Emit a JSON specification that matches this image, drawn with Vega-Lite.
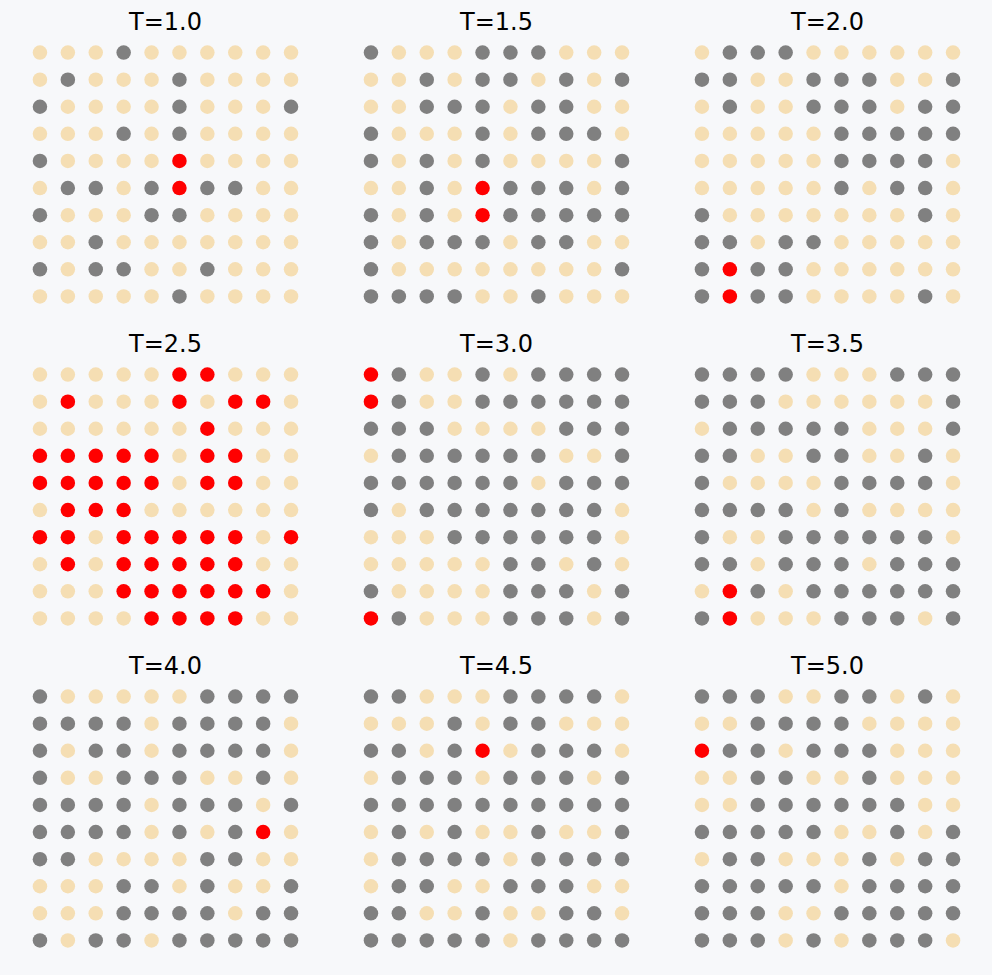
{
  "$schema": "https://vega.github.io/schema/vega-lite/v6.json",
  "background": "#f7f8fa",
  "padding": {"left": 26, "top": 11, "right": 25, "bottom": 21},
  "config": {"view": {"stroke": null}, "font": "DejaVu Sans"},
  "data": {"values": [
{"p":"T=1.0","r":0,"c":0,"s":"B"},{"p":"T=1.0","r":0,"c":1,"s":"B"},{"p":"T=1.0","r":0,"c":2,"s":"B"},{"p":"T=1.0","r":0,"c":3,"s":"G"},{"p":"T=1.0","r":0,"c":4,"s":"B"},{"p":"T=1.0","r":0,"c":5,"s":"B"},{"p":"T=1.0","r":0,"c":6,"s":"B"},{"p":"T=1.0","r":0,"c":7,"s":"B"},{"p":"T=1.0","r":0,"c":8,"s":"B"},{"p":"T=1.0","r":0,"c":9,"s":"B"},
{"p":"T=1.0","r":1,"c":0,"s":"B"},{"p":"T=1.0","r":1,"c":1,"s":"G"},{"p":"T=1.0","r":1,"c":2,"s":"B"},{"p":"T=1.0","r":1,"c":3,"s":"B"},{"p":"T=1.0","r":1,"c":4,"s":"B"},{"p":"T=1.0","r":1,"c":5,"s":"G"},{"p":"T=1.0","r":1,"c":6,"s":"B"},{"p":"T=1.0","r":1,"c":7,"s":"B"},{"p":"T=1.0","r":1,"c":8,"s":"B"},{"p":"T=1.0","r":1,"c":9,"s":"B"},
{"p":"T=1.0","r":2,"c":0,"s":"G"},{"p":"T=1.0","r":2,"c":1,"s":"B"},{"p":"T=1.0","r":2,"c":2,"s":"B"},{"p":"T=1.0","r":2,"c":3,"s":"B"},{"p":"T=1.0","r":2,"c":4,"s":"B"},{"p":"T=1.0","r":2,"c":5,"s":"G"},{"p":"T=1.0","r":2,"c":6,"s":"B"},{"p":"T=1.0","r":2,"c":7,"s":"B"},{"p":"T=1.0","r":2,"c":8,"s":"B"},{"p":"T=1.0","r":2,"c":9,"s":"G"},
{"p":"T=1.0","r":3,"c":0,"s":"B"},{"p":"T=1.0","r":3,"c":1,"s":"B"},{"p":"T=1.0","r":3,"c":2,"s":"B"},{"p":"T=1.0","r":3,"c":3,"s":"G"},{"p":"T=1.0","r":3,"c":4,"s":"B"},{"p":"T=1.0","r":3,"c":5,"s":"G"},{"p":"T=1.0","r":3,"c":6,"s":"B"},{"p":"T=1.0","r":3,"c":7,"s":"B"},{"p":"T=1.0","r":3,"c":8,"s":"B"},{"p":"T=1.0","r":3,"c":9,"s":"B"},
{"p":"T=1.0","r":4,"c":0,"s":"G"},{"p":"T=1.0","r":4,"c":1,"s":"B"},{"p":"T=1.0","r":4,"c":2,"s":"B"},{"p":"T=1.0","r":4,"c":3,"s":"B"},{"p":"T=1.0","r":4,"c":4,"s":"B"},{"p":"T=1.0","r":4,"c":5,"s":"R"},{"p":"T=1.0","r":4,"c":6,"s":"B"},{"p":"T=1.0","r":4,"c":7,"s":"B"},{"p":"T=1.0","r":4,"c":8,"s":"B"},{"p":"T=1.0","r":4,"c":9,"s":"B"},
{"p":"T=1.0","r":5,"c":0,"s":"B"},{"p":"T=1.0","r":5,"c":1,"s":"G"},{"p":"T=1.0","r":5,"c":2,"s":"G"},{"p":"T=1.0","r":5,"c":3,"s":"B"},{"p":"T=1.0","r":5,"c":4,"s":"G"},{"p":"T=1.0","r":5,"c":5,"s":"R"},{"p":"T=1.0","r":5,"c":6,"s":"G"},{"p":"T=1.0","r":5,"c":7,"s":"G"},{"p":"T=1.0","r":5,"c":8,"s":"B"},{"p":"T=1.0","r":5,"c":9,"s":"B"},
{"p":"T=1.0","r":6,"c":0,"s":"G"},{"p":"T=1.0","r":6,"c":1,"s":"B"},{"p":"T=1.0","r":6,"c":2,"s":"B"},{"p":"T=1.0","r":6,"c":3,"s":"B"},{"p":"T=1.0","r":6,"c":4,"s":"G"},{"p":"T=1.0","r":6,"c":5,"s":"G"},{"p":"T=1.0","r":6,"c":6,"s":"B"},{"p":"T=1.0","r":6,"c":7,"s":"B"},{"p":"T=1.0","r":6,"c":8,"s":"B"},{"p":"T=1.0","r":6,"c":9,"s":"B"},
{"p":"T=1.0","r":7,"c":0,"s":"B"},{"p":"T=1.0","r":7,"c":1,"s":"B"},{"p":"T=1.0","r":7,"c":2,"s":"G"},{"p":"T=1.0","r":7,"c":3,"s":"B"},{"p":"T=1.0","r":7,"c":4,"s":"B"},{"p":"T=1.0","r":7,"c":5,"s":"B"},{"p":"T=1.0","r":7,"c":6,"s":"B"},{"p":"T=1.0","r":7,"c":7,"s":"B"},{"p":"T=1.0","r":7,"c":8,"s":"B"},{"p":"T=1.0","r":7,"c":9,"s":"B"},
{"p":"T=1.0","r":8,"c":0,"s":"G"},{"p":"T=1.0","r":8,"c":1,"s":"B"},{"p":"T=1.0","r":8,"c":2,"s":"G"},{"p":"T=1.0","r":8,"c":3,"s":"G"},{"p":"T=1.0","r":8,"c":4,"s":"B"},{"p":"T=1.0","r":8,"c":5,"s":"B"},{"p":"T=1.0","r":8,"c":6,"s":"G"},{"p":"T=1.0","r":8,"c":7,"s":"B"},{"p":"T=1.0","r":8,"c":8,"s":"B"},{"p":"T=1.0","r":8,"c":9,"s":"B"},
{"p":"T=1.0","r":9,"c":0,"s":"B"},{"p":"T=1.0","r":9,"c":1,"s":"B"},{"p":"T=1.0","r":9,"c":2,"s":"B"},{"p":"T=1.0","r":9,"c":3,"s":"B"},{"p":"T=1.0","r":9,"c":4,"s":"B"},{"p":"T=1.0","r":9,"c":5,"s":"G"},{"p":"T=1.0","r":9,"c":6,"s":"B"},{"p":"T=1.0","r":9,"c":7,"s":"B"},{"p":"T=1.0","r":9,"c":8,"s":"B"},{"p":"T=1.0","r":9,"c":9,"s":"B"},
{"p":"T=1.5","r":0,"c":0,"s":"G"},{"p":"T=1.5","r":0,"c":1,"s":"B"},{"p":"T=1.5","r":0,"c":2,"s":"B"},{"p":"T=1.5","r":0,"c":3,"s":"B"},{"p":"T=1.5","r":0,"c":4,"s":"G"},{"p":"T=1.5","r":0,"c":5,"s":"G"},{"p":"T=1.5","r":0,"c":6,"s":"G"},{"p":"T=1.5","r":0,"c":7,"s":"B"},{"p":"T=1.5","r":0,"c":8,"s":"B"},{"p":"T=1.5","r":0,"c":9,"s":"B"},
{"p":"T=1.5","r":1,"c":0,"s":"B"},{"p":"T=1.5","r":1,"c":1,"s":"B"},{"p":"T=1.5","r":1,"c":2,"s":"G"},{"p":"T=1.5","r":1,"c":3,"s":"B"},{"p":"T=1.5","r":1,"c":4,"s":"G"},{"p":"T=1.5","r":1,"c":5,"s":"G"},{"p":"T=1.5","r":1,"c":6,"s":"B"},{"p":"T=1.5","r":1,"c":7,"s":"G"},{"p":"T=1.5","r":1,"c":8,"s":"B"},{"p":"T=1.5","r":1,"c":9,"s":"G"},
{"p":"T=1.5","r":2,"c":0,"s":"B"},{"p":"T=1.5","r":2,"c":1,"s":"B"},{"p":"T=1.5","r":2,"c":2,"s":"G"},{"p":"T=1.5","r":2,"c":3,"s":"G"},{"p":"T=1.5","r":2,"c":4,"s":"G"},{"p":"T=1.5","r":2,"c":5,"s":"B"},{"p":"T=1.5","r":2,"c":6,"s":"G"},{"p":"T=1.5","r":2,"c":7,"s":"G"},{"p":"T=1.5","r":2,"c":8,"s":"B"},{"p":"T=1.5","r":2,"c":9,"s":"B"},
{"p":"T=1.5","r":3,"c":0,"s":"G"},{"p":"T=1.5","r":3,"c":1,"s":"B"},{"p":"T=1.5","r":3,"c":2,"s":"B"},{"p":"T=1.5","r":3,"c":3,"s":"B"},{"p":"T=1.5","r":3,"c":4,"s":"G"},{"p":"T=1.5","r":3,"c":5,"s":"B"},{"p":"T=1.5","r":3,"c":6,"s":"G"},{"p":"T=1.5","r":3,"c":7,"s":"G"},{"p":"T=1.5","r":3,"c":8,"s":"G"},{"p":"T=1.5","r":3,"c":9,"s":"B"},
{"p":"T=1.5","r":4,"c":0,"s":"G"},{"p":"T=1.5","r":4,"c":1,"s":"B"},{"p":"T=1.5","r":4,"c":2,"s":"G"},{"p":"T=1.5","r":4,"c":3,"s":"B"},{"p":"T=1.5","r":4,"c":4,"s":"G"},{"p":"T=1.5","r":4,"c":5,"s":"B"},{"p":"T=1.5","r":4,"c":6,"s":"B"},{"p":"T=1.5","r":4,"c":7,"s":"B"},{"p":"T=1.5","r":4,"c":8,"s":"B"},{"p":"T=1.5","r":4,"c":9,"s":"G"},
{"p":"T=1.5","r":5,"c":0,"s":"B"},{"p":"T=1.5","r":5,"c":1,"s":"B"},{"p":"T=1.5","r":5,"c":2,"s":"G"},{"p":"T=1.5","r":5,"c":3,"s":"B"},{"p":"T=1.5","r":5,"c":4,"s":"R"},{"p":"T=1.5","r":5,"c":5,"s":"G"},{"p":"T=1.5","r":5,"c":6,"s":"G"},{"p":"T=1.5","r":5,"c":7,"s":"G"},{"p":"T=1.5","r":5,"c":8,"s":"B"},{"p":"T=1.5","r":5,"c":9,"s":"G"},
{"p":"T=1.5","r":6,"c":0,"s":"G"},{"p":"T=1.5","r":6,"c":1,"s":"B"},{"p":"T=1.5","r":6,"c":2,"s":"G"},{"p":"T=1.5","r":6,"c":3,"s":"B"},{"p":"T=1.5","r":6,"c":4,"s":"R"},{"p":"T=1.5","r":6,"c":5,"s":"G"},{"p":"T=1.5","r":6,"c":6,"s":"G"},{"p":"T=1.5","r":6,"c":7,"s":"G"},{"p":"T=1.5","r":6,"c":8,"s":"G"},{"p":"T=1.5","r":6,"c":9,"s":"G"},
{"p":"T=1.5","r":7,"c":0,"s":"G"},{"p":"T=1.5","r":7,"c":1,"s":"B"},{"p":"T=1.5","r":7,"c":2,"s":"G"},{"p":"T=1.5","r":7,"c":3,"s":"G"},{"p":"T=1.5","r":7,"c":4,"s":"G"},{"p":"T=1.5","r":7,"c":5,"s":"B"},{"p":"T=1.5","r":7,"c":6,"s":"G"},{"p":"T=1.5","r":7,"c":7,"s":"G"},{"p":"T=1.5","r":7,"c":8,"s":"B"},{"p":"T=1.5","r":7,"c":9,"s":"B"},
{"p":"T=1.5","r":8,"c":0,"s":"G"},{"p":"T=1.5","r":8,"c":1,"s":"B"},{"p":"T=1.5","r":8,"c":2,"s":"B"},{"p":"T=1.5","r":8,"c":3,"s":"B"},{"p":"T=1.5","r":8,"c":4,"s":"B"},{"p":"T=1.5","r":8,"c":5,"s":"B"},{"p":"T=1.5","r":8,"c":6,"s":"B"},{"p":"T=1.5","r":8,"c":7,"s":"B"},{"p":"T=1.5","r":8,"c":8,"s":"B"},{"p":"T=1.5","r":8,"c":9,"s":"G"},
{"p":"T=1.5","r":9,"c":0,"s":"G"},{"p":"T=1.5","r":9,"c":1,"s":"G"},{"p":"T=1.5","r":9,"c":2,"s":"G"},{"p":"T=1.5","r":9,"c":3,"s":"G"},{"p":"T=1.5","r":9,"c":4,"s":"B"},{"p":"T=1.5","r":9,"c":5,"s":"B"},{"p":"T=1.5","r":9,"c":6,"s":"G"},{"p":"T=1.5","r":9,"c":7,"s":"B"},{"p":"T=1.5","r":9,"c":8,"s":"B"},{"p":"T=1.5","r":9,"c":9,"s":"B"},
{"p":"T=2.0","r":0,"c":0,"s":"B"},{"p":"T=2.0","r":0,"c":1,"s":"G"},{"p":"T=2.0","r":0,"c":2,"s":"G"},{"p":"T=2.0","r":0,"c":3,"s":"G"},{"p":"T=2.0","r":0,"c":4,"s":"B"},{"p":"T=2.0","r":0,"c":5,"s":"B"},{"p":"T=2.0","r":0,"c":6,"s":"B"},{"p":"T=2.0","r":0,"c":7,"s":"B"},{"p":"T=2.0","r":0,"c":8,"s":"B"},{"p":"T=2.0","r":0,"c":9,"s":"B"},
{"p":"T=2.0","r":1,"c":0,"s":"G"},{"p":"T=2.0","r":1,"c":1,"s":"G"},{"p":"T=2.0","r":1,"c":2,"s":"B"},{"p":"T=2.0","r":1,"c":3,"s":"B"},{"p":"T=2.0","r":1,"c":4,"s":"G"},{"p":"T=2.0","r":1,"c":5,"s":"G"},{"p":"T=2.0","r":1,"c":6,"s":"G"},{"p":"T=2.0","r":1,"c":7,"s":"B"},{"p":"T=2.0","r":1,"c":8,"s":"B"},{"p":"T=2.0","r":1,"c":9,"s":"G"},
{"p":"T=2.0","r":2,"c":0,"s":"B"},{"p":"T=2.0","r":2,"c":1,"s":"G"},{"p":"T=2.0","r":2,"c":2,"s":"B"},{"p":"T=2.0","r":2,"c":3,"s":"B"},{"p":"T=2.0","r":2,"c":4,"s":"G"},{"p":"T=2.0","r":2,"c":5,"s":"G"},{"p":"T=2.0","r":2,"c":6,"s":"G"},{"p":"T=2.0","r":2,"c":7,"s":"B"},{"p":"T=2.0","r":2,"c":8,"s":"G"},{"p":"T=2.0","r":2,"c":9,"s":"G"},
{"p":"T=2.0","r":3,"c":0,"s":"B"},{"p":"T=2.0","r":3,"c":1,"s":"B"},{"p":"T=2.0","r":3,"c":2,"s":"B"},{"p":"T=2.0","r":3,"c":3,"s":"B"},{"p":"T=2.0","r":3,"c":4,"s":"B"},{"p":"T=2.0","r":3,"c":5,"s":"G"},{"p":"T=2.0","r":3,"c":6,"s":"G"},{"p":"T=2.0","r":3,"c":7,"s":"G"},{"p":"T=2.0","r":3,"c":8,"s":"G"},{"p":"T=2.0","r":3,"c":9,"s":"G"},
{"p":"T=2.0","r":4,"c":0,"s":"B"},{"p":"T=2.0","r":4,"c":1,"s":"B"},{"p":"T=2.0","r":4,"c":2,"s":"B"},{"p":"T=2.0","r":4,"c":3,"s":"B"},{"p":"T=2.0","r":4,"c":4,"s":"B"},{"p":"T=2.0","r":4,"c":5,"s":"G"},{"p":"T=2.0","r":4,"c":6,"s":"G"},{"p":"T=2.0","r":4,"c":7,"s":"G"},{"p":"T=2.0","r":4,"c":8,"s":"G"},{"p":"T=2.0","r":4,"c":9,"s":"B"},
{"p":"T=2.0","r":5,"c":0,"s":"B"},{"p":"T=2.0","r":5,"c":1,"s":"B"},{"p":"T=2.0","r":5,"c":2,"s":"B"},{"p":"T=2.0","r":5,"c":3,"s":"B"},{"p":"T=2.0","r":5,"c":4,"s":"B"},{"p":"T=2.0","r":5,"c":5,"s":"G"},{"p":"T=2.0","r":5,"c":6,"s":"B"},{"p":"T=2.0","r":5,"c":7,"s":"G"},{"p":"T=2.0","r":5,"c":8,"s":"G"},{"p":"T=2.0","r":5,"c":9,"s":"B"},
{"p":"T=2.0","r":6,"c":0,"s":"G"},{"p":"T=2.0","r":6,"c":1,"s":"B"},{"p":"T=2.0","r":6,"c":2,"s":"B"},{"p":"T=2.0","r":6,"c":3,"s":"B"},{"p":"T=2.0","r":6,"c":4,"s":"B"},{"p":"T=2.0","r":6,"c":5,"s":"B"},{"p":"T=2.0","r":6,"c":6,"s":"B"},{"p":"T=2.0","r":6,"c":7,"s":"B"},{"p":"T=2.0","r":6,"c":8,"s":"G"},{"p":"T=2.0","r":6,"c":9,"s":"B"},
{"p":"T=2.0","r":7,"c":0,"s":"G"},{"p":"T=2.0","r":7,"c":1,"s":"G"},{"p":"T=2.0","r":7,"c":2,"s":"B"},{"p":"T=2.0","r":7,"c":3,"s":"G"},{"p":"T=2.0","r":7,"c":4,"s":"G"},{"p":"T=2.0","r":7,"c":5,"s":"B"},{"p":"T=2.0","r":7,"c":6,"s":"B"},{"p":"T=2.0","r":7,"c":7,"s":"B"},{"p":"T=2.0","r":7,"c":8,"s":"B"},{"p":"T=2.0","r":7,"c":9,"s":"B"},
{"p":"T=2.0","r":8,"c":0,"s":"G"},{"p":"T=2.0","r":8,"c":1,"s":"R"},{"p":"T=2.0","r":8,"c":2,"s":"G"},{"p":"T=2.0","r":8,"c":3,"s":"G"},{"p":"T=2.0","r":8,"c":4,"s":"B"},{"p":"T=2.0","r":8,"c":5,"s":"B"},{"p":"T=2.0","r":8,"c":6,"s":"B"},{"p":"T=2.0","r":8,"c":7,"s":"B"},{"p":"T=2.0","r":8,"c":8,"s":"B"},{"p":"T=2.0","r":8,"c":9,"s":"B"},
{"p":"T=2.0","r":9,"c":0,"s":"G"},{"p":"T=2.0","r":9,"c":1,"s":"R"},{"p":"T=2.0","r":9,"c":2,"s":"G"},{"p":"T=2.0","r":9,"c":3,"s":"G"},{"p":"T=2.0","r":9,"c":4,"s":"B"},{"p":"T=2.0","r":9,"c":5,"s":"B"},{"p":"T=2.0","r":9,"c":6,"s":"B"},{"p":"T=2.0","r":9,"c":7,"s":"B"},{"p":"T=2.0","r":9,"c":8,"s":"G"},{"p":"T=2.0","r":9,"c":9,"s":"B"},
{"p":"T=2.5","r":0,"c":0,"s":"B"},{"p":"T=2.5","r":0,"c":1,"s":"B"},{"p":"T=2.5","r":0,"c":2,"s":"B"},{"p":"T=2.5","r":0,"c":3,"s":"B"},{"p":"T=2.5","r":0,"c":4,"s":"B"},{"p":"T=2.5","r":0,"c":5,"s":"R"},{"p":"T=2.5","r":0,"c":6,"s":"R"},{"p":"T=2.5","r":0,"c":7,"s":"B"},{"p":"T=2.5","r":0,"c":8,"s":"B"},{"p":"T=2.5","r":0,"c":9,"s":"B"},
{"p":"T=2.5","r":1,"c":0,"s":"B"},{"p":"T=2.5","r":1,"c":1,"s":"R"},{"p":"T=2.5","r":1,"c":2,"s":"B"},{"p":"T=2.5","r":1,"c":3,"s":"B"},{"p":"T=2.5","r":1,"c":4,"s":"B"},{"p":"T=2.5","r":1,"c":5,"s":"R"},{"p":"T=2.5","r":1,"c":6,"s":"B"},{"p":"T=2.5","r":1,"c":7,"s":"R"},{"p":"T=2.5","r":1,"c":8,"s":"R"},{"p":"T=2.5","r":1,"c":9,"s":"B"},
{"p":"T=2.5","r":2,"c":0,"s":"B"},{"p":"T=2.5","r":2,"c":1,"s":"B"},{"p":"T=2.5","r":2,"c":2,"s":"B"},{"p":"T=2.5","r":2,"c":3,"s":"B"},{"p":"T=2.5","r":2,"c":4,"s":"B"},{"p":"T=2.5","r":2,"c":5,"s":"B"},{"p":"T=2.5","r":2,"c":6,"s":"R"},{"p":"T=2.5","r":2,"c":7,"s":"B"},{"p":"T=2.5","r":2,"c":8,"s":"B"},{"p":"T=2.5","r":2,"c":9,"s":"B"},
{"p":"T=2.5","r":3,"c":0,"s":"R"},{"p":"T=2.5","r":3,"c":1,"s":"R"},{"p":"T=2.5","r":3,"c":2,"s":"R"},{"p":"T=2.5","r":3,"c":3,"s":"R"},{"p":"T=2.5","r":3,"c":4,"s":"R"},{"p":"T=2.5","r":3,"c":5,"s":"B"},{"p":"T=2.5","r":3,"c":6,"s":"R"},{"p":"T=2.5","r":3,"c":7,"s":"R"},{"p":"T=2.5","r":3,"c":8,"s":"B"},{"p":"T=2.5","r":3,"c":9,"s":"B"},
{"p":"T=2.5","r":4,"c":0,"s":"R"},{"p":"T=2.5","r":4,"c":1,"s":"R"},{"p":"T=2.5","r":4,"c":2,"s":"R"},{"p":"T=2.5","r":4,"c":3,"s":"R"},{"p":"T=2.5","r":4,"c":4,"s":"R"},{"p":"T=2.5","r":4,"c":5,"s":"B"},{"p":"T=2.5","r":4,"c":6,"s":"R"},{"p":"T=2.5","r":4,"c":7,"s":"R"},{"p":"T=2.5","r":4,"c":8,"s":"B"},{"p":"T=2.5","r":4,"c":9,"s":"B"},
{"p":"T=2.5","r":5,"c":0,"s":"B"},{"p":"T=2.5","r":5,"c":1,"s":"R"},{"p":"T=2.5","r":5,"c":2,"s":"R"},{"p":"T=2.5","r":5,"c":3,"s":"R"},{"p":"T=2.5","r":5,"c":4,"s":"B"},{"p":"T=2.5","r":5,"c":5,"s":"B"},{"p":"T=2.5","r":5,"c":6,"s":"B"},{"p":"T=2.5","r":5,"c":7,"s":"B"},{"p":"T=2.5","r":5,"c":8,"s":"B"},{"p":"T=2.5","r":5,"c":9,"s":"B"},
{"p":"T=2.5","r":6,"c":0,"s":"R"},{"p":"T=2.5","r":6,"c":1,"s":"R"},{"p":"T=2.5","r":6,"c":2,"s":"B"},{"p":"T=2.5","r":6,"c":3,"s":"R"},{"p":"T=2.5","r":6,"c":4,"s":"R"},{"p":"T=2.5","r":6,"c":5,"s":"R"},{"p":"T=2.5","r":6,"c":6,"s":"R"},{"p":"T=2.5","r":6,"c":7,"s":"R"},{"p":"T=2.5","r":6,"c":8,"s":"B"},{"p":"T=2.5","r":6,"c":9,"s":"R"},
{"p":"T=2.5","r":7,"c":0,"s":"B"},{"p":"T=2.5","r":7,"c":1,"s":"R"},{"p":"T=2.5","r":7,"c":2,"s":"B"},{"p":"T=2.5","r":7,"c":3,"s":"R"},{"p":"T=2.5","r":7,"c":4,"s":"R"},{"p":"T=2.5","r":7,"c":5,"s":"R"},{"p":"T=2.5","r":7,"c":6,"s":"R"},{"p":"T=2.5","r":7,"c":7,"s":"R"},{"p":"T=2.5","r":7,"c":8,"s":"B"},{"p":"T=2.5","r":7,"c":9,"s":"B"},
{"p":"T=2.5","r":8,"c":0,"s":"B"},{"p":"T=2.5","r":8,"c":1,"s":"B"},{"p":"T=2.5","r":8,"c":2,"s":"B"},{"p":"T=2.5","r":8,"c":3,"s":"R"},{"p":"T=2.5","r":8,"c":4,"s":"R"},{"p":"T=2.5","r":8,"c":5,"s":"R"},{"p":"T=2.5","r":8,"c":6,"s":"R"},{"p":"T=2.5","r":8,"c":7,"s":"R"},{"p":"T=2.5","r":8,"c":8,"s":"R"},{"p":"T=2.5","r":8,"c":9,"s":"B"},
{"p":"T=2.5","r":9,"c":0,"s":"B"},{"p":"T=2.5","r":9,"c":1,"s":"B"},{"p":"T=2.5","r":9,"c":2,"s":"B"},{"p":"T=2.5","r":9,"c":3,"s":"B"},{"p":"T=2.5","r":9,"c":4,"s":"R"},{"p":"T=2.5","r":9,"c":5,"s":"R"},{"p":"T=2.5","r":9,"c":6,"s":"R"},{"p":"T=2.5","r":9,"c":7,"s":"R"},{"p":"T=2.5","r":9,"c":8,"s":"B"},{"p":"T=2.5","r":9,"c":9,"s":"B"},
{"p":"T=3.0","r":0,"c":0,"s":"R"},{"p":"T=3.0","r":0,"c":1,"s":"G"},{"p":"T=3.0","r":0,"c":2,"s":"B"},{"p":"T=3.0","r":0,"c":3,"s":"B"},{"p":"T=3.0","r":0,"c":4,"s":"G"},{"p":"T=3.0","r":0,"c":5,"s":"B"},{"p":"T=3.0","r":0,"c":6,"s":"G"},{"p":"T=3.0","r":0,"c":7,"s":"G"},{"p":"T=3.0","r":0,"c":8,"s":"G"},{"p":"T=3.0","r":0,"c":9,"s":"G"},
{"p":"T=3.0","r":1,"c":0,"s":"R"},{"p":"T=3.0","r":1,"c":1,"s":"G"},{"p":"T=3.0","r":1,"c":2,"s":"B"},{"p":"T=3.0","r":1,"c":3,"s":"B"},{"p":"T=3.0","r":1,"c":4,"s":"G"},{"p":"T=3.0","r":1,"c":5,"s":"G"},{"p":"T=3.0","r":1,"c":6,"s":"G"},{"p":"T=3.0","r":1,"c":7,"s":"G"},{"p":"T=3.0","r":1,"c":8,"s":"G"},{"p":"T=3.0","r":1,"c":9,"s":"G"},
{"p":"T=3.0","r":2,"c":0,"s":"G"},{"p":"T=3.0","r":2,"c":1,"s":"G"},{"p":"T=3.0","r":2,"c":2,"s":"G"},{"p":"T=3.0","r":2,"c":3,"s":"B"},{"p":"T=3.0","r":2,"c":4,"s":"B"},{"p":"T=3.0","r":2,"c":5,"s":"B"},{"p":"T=3.0","r":2,"c":6,"s":"B"},{"p":"T=3.0","r":2,"c":7,"s":"G"},{"p":"T=3.0","r":2,"c":8,"s":"G"},{"p":"T=3.0","r":2,"c":9,"s":"G"},
{"p":"T=3.0","r":3,"c":0,"s":"B"},{"p":"T=3.0","r":3,"c":1,"s":"G"},{"p":"T=3.0","r":3,"c":2,"s":"G"},{"p":"T=3.0","r":3,"c":3,"s":"G"},{"p":"T=3.0","r":3,"c":4,"s":"G"},{"p":"T=3.0","r":3,"c":5,"s":"G"},{"p":"T=3.0","r":3,"c":6,"s":"G"},{"p":"T=3.0","r":3,"c":7,"s":"B"},{"p":"T=3.0","r":3,"c":8,"s":"B"},{"p":"T=3.0","r":3,"c":9,"s":"G"},
{"p":"T=3.0","r":4,"c":0,"s":"G"},{"p":"T=3.0","r":4,"c":1,"s":"G"},{"p":"T=3.0","r":4,"c":2,"s":"G"},{"p":"T=3.0","r":4,"c":3,"s":"G"},{"p":"T=3.0","r":4,"c":4,"s":"G"},{"p":"T=3.0","r":4,"c":5,"s":"G"},{"p":"T=3.0","r":4,"c":6,"s":"B"},{"p":"T=3.0","r":4,"c":7,"s":"G"},{"p":"T=3.0","r":4,"c":8,"s":"G"},{"p":"T=3.0","r":4,"c":9,"s":"G"},
{"p":"T=3.0","r":5,"c":0,"s":"G"},{"p":"T=3.0","r":5,"c":1,"s":"B"},{"p":"T=3.0","r":5,"c":2,"s":"G"},{"p":"T=3.0","r":5,"c":3,"s":"G"},{"p":"T=3.0","r":5,"c":4,"s":"G"},{"p":"T=3.0","r":5,"c":5,"s":"G"},{"p":"T=3.0","r":5,"c":6,"s":"G"},{"p":"T=3.0","r":5,"c":7,"s":"G"},{"p":"T=3.0","r":5,"c":8,"s":"G"},{"p":"T=3.0","r":5,"c":9,"s":"B"},
{"p":"T=3.0","r":6,"c":0,"s":"B"},{"p":"T=3.0","r":6,"c":1,"s":"B"},{"p":"T=3.0","r":6,"c":2,"s":"B"},{"p":"T=3.0","r":6,"c":3,"s":"G"},{"p":"T=3.0","r":6,"c":4,"s":"G"},{"p":"T=3.0","r":6,"c":5,"s":"G"},{"p":"T=3.0","r":6,"c":6,"s":"G"},{"p":"T=3.0","r":6,"c":7,"s":"G"},{"p":"T=3.0","r":6,"c":8,"s":"G"},{"p":"T=3.0","r":6,"c":9,"s":"B"},
{"p":"T=3.0","r":7,"c":0,"s":"B"},{"p":"T=3.0","r":7,"c":1,"s":"B"},{"p":"T=3.0","r":7,"c":2,"s":"B"},{"p":"T=3.0","r":7,"c":3,"s":"B"},{"p":"T=3.0","r":7,"c":4,"s":"B"},{"p":"T=3.0","r":7,"c":5,"s":"G"},{"p":"T=3.0","r":7,"c":6,"s":"G"},{"p":"T=3.0","r":7,"c":7,"s":"B"},{"p":"T=3.0","r":7,"c":8,"s":"G"},{"p":"T=3.0","r":7,"c":9,"s":"B"},
{"p":"T=3.0","r":8,"c":0,"s":"G"},{"p":"T=3.0","r":8,"c":1,"s":"B"},{"p":"T=3.0","r":8,"c":2,"s":"B"},{"p":"T=3.0","r":8,"c":3,"s":"B"},{"p":"T=3.0","r":8,"c":4,"s":"B"},{"p":"T=3.0","r":8,"c":5,"s":"G"},{"p":"T=3.0","r":8,"c":6,"s":"G"},{"p":"T=3.0","r":8,"c":7,"s":"G"},{"p":"T=3.0","r":8,"c":8,"s":"B"},{"p":"T=3.0","r":8,"c":9,"s":"G"},
{"p":"T=3.0","r":9,"c":0,"s":"R"},{"p":"T=3.0","r":9,"c":1,"s":"G"},{"p":"T=3.0","r":9,"c":2,"s":"B"},{"p":"T=3.0","r":9,"c":3,"s":"B"},{"p":"T=3.0","r":9,"c":4,"s":"B"},{"p":"T=3.0","r":9,"c":5,"s":"G"},{"p":"T=3.0","r":9,"c":6,"s":"G"},{"p":"T=3.0","r":9,"c":7,"s":"G"},{"p":"T=3.0","r":9,"c":8,"s":"B"},{"p":"T=3.0","r":9,"c":9,"s":"G"},
{"p":"T=3.5","r":0,"c":0,"s":"G"},{"p":"T=3.5","r":0,"c":1,"s":"G"},{"p":"T=3.5","r":0,"c":2,"s":"G"},{"p":"T=3.5","r":0,"c":3,"s":"G"},{"p":"T=3.5","r":0,"c":4,"s":"B"},{"p":"T=3.5","r":0,"c":5,"s":"B"},{"p":"T=3.5","r":0,"c":6,"s":"B"},{"p":"T=3.5","r":0,"c":7,"s":"G"},{"p":"T=3.5","r":0,"c":8,"s":"G"},{"p":"T=3.5","r":0,"c":9,"s":"G"},
{"p":"T=3.5","r":1,"c":0,"s":"G"},{"p":"T=3.5","r":1,"c":1,"s":"G"},{"p":"T=3.5","r":1,"c":2,"s":"G"},{"p":"T=3.5","r":1,"c":3,"s":"B"},{"p":"T=3.5","r":1,"c":4,"s":"B"},{"p":"T=3.5","r":1,"c":5,"s":"B"},{"p":"T=3.5","r":1,"c":6,"s":"B"},{"p":"T=3.5","r":1,"c":7,"s":"B"},{"p":"T=3.5","r":1,"c":8,"s":"B"},{"p":"T=3.5","r":1,"c":9,"s":"G"},
{"p":"T=3.5","r":2,"c":0,"s":"B"},{"p":"T=3.5","r":2,"c":1,"s":"G"},{"p":"T=3.5","r":2,"c":2,"s":"G"},{"p":"T=3.5","r":2,"c":3,"s":"G"},{"p":"T=3.5","r":2,"c":4,"s":"G"},{"p":"T=3.5","r":2,"c":5,"s":"G"},{"p":"T=3.5","r":2,"c":6,"s":"B"},{"p":"T=3.5","r":2,"c":7,"s":"B"},{"p":"T=3.5","r":2,"c":8,"s":"B"},{"p":"T=3.5","r":2,"c":9,"s":"G"},
{"p":"T=3.5","r":3,"c":0,"s":"G"},{"p":"T=3.5","r":3,"c":1,"s":"G"},{"p":"T=3.5","r":3,"c":2,"s":"B"},{"p":"T=3.5","r":3,"c":3,"s":"B"},{"p":"T=3.5","r":3,"c":4,"s":"G"},{"p":"T=3.5","r":3,"c":5,"s":"G"},{"p":"T=3.5","r":3,"c":6,"s":"B"},{"p":"T=3.5","r":3,"c":7,"s":"B"},{"p":"T=3.5","r":3,"c":8,"s":"G"},{"p":"T=3.5","r":3,"c":9,"s":"B"},
{"p":"T=3.5","r":4,"c":0,"s":"G"},{"p":"T=3.5","r":4,"c":1,"s":"B"},{"p":"T=3.5","r":4,"c":2,"s":"B"},{"p":"T=3.5","r":4,"c":3,"s":"B"},{"p":"T=3.5","r":4,"c":4,"s":"B"},{"p":"T=3.5","r":4,"c":5,"s":"G"},{"p":"T=3.5","r":4,"c":6,"s":"G"},{"p":"T=3.5","r":4,"c":7,"s":"G"},{"p":"T=3.5","r":4,"c":8,"s":"G"},{"p":"T=3.5","r":4,"c":9,"s":"B"},
{"p":"T=3.5","r":5,"c":0,"s":"G"},{"p":"T=3.5","r":5,"c":1,"s":"G"},{"p":"T=3.5","r":5,"c":2,"s":"G"},{"p":"T=3.5","r":5,"c":3,"s":"G"},{"p":"T=3.5","r":5,"c":4,"s":"B"},{"p":"T=3.5","r":5,"c":5,"s":"G"},{"p":"T=3.5","r":5,"c":6,"s":"B"},{"p":"T=3.5","r":5,"c":7,"s":"B"},{"p":"T=3.5","r":5,"c":8,"s":"B"},{"p":"T=3.5","r":5,"c":9,"s":"B"},
{"p":"T=3.5","r":6,"c":0,"s":"G"},{"p":"T=3.5","r":6,"c":1,"s":"B"},{"p":"T=3.5","r":6,"c":2,"s":"B"},{"p":"T=3.5","r":6,"c":3,"s":"G"},{"p":"T=3.5","r":6,"c":4,"s":"G"},{"p":"T=3.5","r":6,"c":5,"s":"G"},{"p":"T=3.5","r":6,"c":6,"s":"G"},{"p":"T=3.5","r":6,"c":7,"s":"G"},{"p":"T=3.5","r":6,"c":8,"s":"G"},{"p":"T=3.5","r":6,"c":9,"s":"B"},
{"p":"T=3.5","r":7,"c":0,"s":"G"},{"p":"T=3.5","r":7,"c":1,"s":"G"},{"p":"T=3.5","r":7,"c":2,"s":"B"},{"p":"T=3.5","r":7,"c":3,"s":"G"},{"p":"T=3.5","r":7,"c":4,"s":"G"},{"p":"T=3.5","r":7,"c":5,"s":"G"},{"p":"T=3.5","r":7,"c":6,"s":"B"},{"p":"T=3.5","r":7,"c":7,"s":"G"},{"p":"T=3.5","r":7,"c":8,"s":"G"},{"p":"T=3.5","r":7,"c":9,"s":"G"},
{"p":"T=3.5","r":8,"c":0,"s":"B"},{"p":"T=3.5","r":8,"c":1,"s":"R"},{"p":"T=3.5","r":8,"c":2,"s":"G"},{"p":"T=3.5","r":8,"c":3,"s":"B"},{"p":"T=3.5","r":8,"c":4,"s":"G"},{"p":"T=3.5","r":8,"c":5,"s":"G"},{"p":"T=3.5","r":8,"c":6,"s":"G"},{"p":"T=3.5","r":8,"c":7,"s":"G"},{"p":"T=3.5","r":8,"c":8,"s":"G"},{"p":"T=3.5","r":8,"c":9,"s":"G"},
{"p":"T=3.5","r":9,"c":0,"s":"G"},{"p":"T=3.5","r":9,"c":1,"s":"R"},{"p":"T=3.5","r":9,"c":2,"s":"B"},{"p":"T=3.5","r":9,"c":3,"s":"B"},{"p":"T=3.5","r":9,"c":4,"s":"B"},{"p":"T=3.5","r":9,"c":5,"s":"G"},{"p":"T=3.5","r":9,"c":6,"s":"G"},{"p":"T=3.5","r":9,"c":7,"s":"G"},{"p":"T=3.5","r":9,"c":8,"s":"B"},{"p":"T=3.5","r":9,"c":9,"s":"G"},
{"p":"T=4.0","r":0,"c":0,"s":"G"},{"p":"T=4.0","r":0,"c":1,"s":"B"},{"p":"T=4.0","r":0,"c":2,"s":"B"},{"p":"T=4.0","r":0,"c":3,"s":"B"},{"p":"T=4.0","r":0,"c":4,"s":"B"},{"p":"T=4.0","r":0,"c":5,"s":"B"},{"p":"T=4.0","r":0,"c":6,"s":"G"},{"p":"T=4.0","r":0,"c":7,"s":"G"},{"p":"T=4.0","r":0,"c":8,"s":"G"},{"p":"T=4.0","r":0,"c":9,"s":"G"},
{"p":"T=4.0","r":1,"c":0,"s":"G"},{"p":"T=4.0","r":1,"c":1,"s":"G"},{"p":"T=4.0","r":1,"c":2,"s":"G"},{"p":"T=4.0","r":1,"c":3,"s":"G"},{"p":"T=4.0","r":1,"c":4,"s":"B"},{"p":"T=4.0","r":1,"c":5,"s":"G"},{"p":"T=4.0","r":1,"c":6,"s":"G"},{"p":"T=4.0","r":1,"c":7,"s":"G"},{"p":"T=4.0","r":1,"c":8,"s":"G"},{"p":"T=4.0","r":1,"c":9,"s":"B"},
{"p":"T=4.0","r":2,"c":0,"s":"G"},{"p":"T=4.0","r":2,"c":1,"s":"B"},{"p":"T=4.0","r":2,"c":2,"s":"G"},{"p":"T=4.0","r":2,"c":3,"s":"G"},{"p":"T=4.0","r":2,"c":4,"s":"B"},{"p":"T=4.0","r":2,"c":5,"s":"G"},{"p":"T=4.0","r":2,"c":6,"s":"G"},{"p":"T=4.0","r":2,"c":7,"s":"G"},{"p":"T=4.0","r":2,"c":8,"s":"G"},{"p":"T=4.0","r":2,"c":9,"s":"B"},
{"p":"T=4.0","r":3,"c":0,"s":"G"},{"p":"T=4.0","r":3,"c":1,"s":"B"},{"p":"T=4.0","r":3,"c":2,"s":"B"},{"p":"T=4.0","r":3,"c":3,"s":"G"},{"p":"T=4.0","r":3,"c":4,"s":"G"},{"p":"T=4.0","r":3,"c":5,"s":"G"},{"p":"T=4.0","r":3,"c":6,"s":"B"},{"p":"T=4.0","r":3,"c":7,"s":"B"},{"p":"T=4.0","r":3,"c":8,"s":"G"},{"p":"T=4.0","r":3,"c":9,"s":"B"},
{"p":"T=4.0","r":4,"c":0,"s":"G"},{"p":"T=4.0","r":4,"c":1,"s":"G"},{"p":"T=4.0","r":4,"c":2,"s":"G"},{"p":"T=4.0","r":4,"c":3,"s":"G"},{"p":"T=4.0","r":4,"c":4,"s":"B"},{"p":"T=4.0","r":4,"c":5,"s":"G"},{"p":"T=4.0","r":4,"c":6,"s":"G"},{"p":"T=4.0","r":4,"c":7,"s":"G"},{"p":"T=4.0","r":4,"c":8,"s":"B"},{"p":"T=4.0","r":4,"c":9,"s":"G"},
{"p":"T=4.0","r":5,"c":0,"s":"G"},{"p":"T=4.0","r":5,"c":1,"s":"G"},{"p":"T=4.0","r":5,"c":2,"s":"G"},{"p":"T=4.0","r":5,"c":3,"s":"G"},{"p":"T=4.0","r":5,"c":4,"s":"B"},{"p":"T=4.0","r":5,"c":5,"s":"G"},{"p":"T=4.0","r":5,"c":6,"s":"B"},{"p":"T=4.0","r":5,"c":7,"s":"G"},{"p":"T=4.0","r":5,"c":8,"s":"R"},{"p":"T=4.0","r":5,"c":9,"s":"B"},
{"p":"T=4.0","r":6,"c":0,"s":"G"},{"p":"T=4.0","r":6,"c":1,"s":"G"},{"p":"T=4.0","r":6,"c":2,"s":"B"},{"p":"T=4.0","r":6,"c":3,"s":"B"},{"p":"T=4.0","r":6,"c":4,"s":"B"},{"p":"T=4.0","r":6,"c":5,"s":"B"},{"p":"T=4.0","r":6,"c":6,"s":"G"},{"p":"T=4.0","r":6,"c":7,"s":"G"},{"p":"T=4.0","r":6,"c":8,"s":"B"},{"p":"T=4.0","r":6,"c":9,"s":"B"},
{"p":"T=4.0","r":7,"c":0,"s":"B"},{"p":"T=4.0","r":7,"c":1,"s":"B"},{"p":"T=4.0","r":7,"c":2,"s":"B"},{"p":"T=4.0","r":7,"c":3,"s":"G"},{"p":"T=4.0","r":7,"c":4,"s":"G"},{"p":"T=4.0","r":7,"c":5,"s":"B"},{"p":"T=4.0","r":7,"c":6,"s":"G"},{"p":"T=4.0","r":7,"c":7,"s":"B"},{"p":"T=4.0","r":7,"c":8,"s":"B"},{"p":"T=4.0","r":7,"c":9,"s":"G"},
{"p":"T=4.0","r":8,"c":0,"s":"B"},{"p":"T=4.0","r":8,"c":1,"s":"B"},{"p":"T=4.0","r":8,"c":2,"s":"B"},{"p":"T=4.0","r":8,"c":3,"s":"G"},{"p":"T=4.0","r":8,"c":4,"s":"G"},{"p":"T=4.0","r":8,"c":5,"s":"G"},{"p":"T=4.0","r":8,"c":6,"s":"G"},{"p":"T=4.0","r":8,"c":7,"s":"B"},{"p":"T=4.0","r":8,"c":8,"s":"G"},{"p":"T=4.0","r":8,"c":9,"s":"G"},
{"p":"T=4.0","r":9,"c":0,"s":"G"},{"p":"T=4.0","r":9,"c":1,"s":"B"},{"p":"T=4.0","r":9,"c":2,"s":"G"},{"p":"T=4.0","r":9,"c":3,"s":"G"},{"p":"T=4.0","r":9,"c":4,"s":"B"},{"p":"T=4.0","r":9,"c":5,"s":"G"},{"p":"T=4.0","r":9,"c":6,"s":"G"},{"p":"T=4.0","r":9,"c":7,"s":"G"},{"p":"T=4.0","r":9,"c":8,"s":"G"},{"p":"T=4.0","r":9,"c":9,"s":"G"},
{"p":"T=4.5","r":0,"c":0,"s":"G"},{"p":"T=4.5","r":0,"c":1,"s":"G"},{"p":"T=4.5","r":0,"c":2,"s":"B"},{"p":"T=4.5","r":0,"c":3,"s":"B"},{"p":"T=4.5","r":0,"c":4,"s":"B"},{"p":"T=4.5","r":0,"c":5,"s":"G"},{"p":"T=4.5","r":0,"c":6,"s":"G"},{"p":"T=4.5","r":0,"c":7,"s":"G"},{"p":"T=4.5","r":0,"c":8,"s":"G"},{"p":"T=4.5","r":0,"c":9,"s":"B"},
{"p":"T=4.5","r":1,"c":0,"s":"B"},{"p":"T=4.5","r":1,"c":1,"s":"B"},{"p":"T=4.5","r":1,"c":2,"s":"B"},{"p":"T=4.5","r":1,"c":3,"s":"G"},{"p":"T=4.5","r":1,"c":4,"s":"B"},{"p":"T=4.5","r":1,"c":5,"s":"G"},{"p":"T=4.5","r":1,"c":6,"s":"G"},{"p":"T=4.5","r":1,"c":7,"s":"B"},{"p":"T=4.5","r":1,"c":8,"s":"B"},{"p":"T=4.5","r":1,"c":9,"s":"B"},
{"p":"T=4.5","r":2,"c":0,"s":"G"},{"p":"T=4.5","r":2,"c":1,"s":"G"},{"p":"T=4.5","r":2,"c":2,"s":"B"},{"p":"T=4.5","r":2,"c":3,"s":"G"},{"p":"T=4.5","r":2,"c":4,"s":"R"},{"p":"T=4.5","r":2,"c":5,"s":"B"},{"p":"T=4.5","r":2,"c":6,"s":"G"},{"p":"T=4.5","r":2,"c":7,"s":"G"},{"p":"T=4.5","r":2,"c":8,"s":"G"},{"p":"T=4.5","r":2,"c":9,"s":"B"},
{"p":"T=4.5","r":3,"c":0,"s":"B"},{"p":"T=4.5","r":3,"c":1,"s":"G"},{"p":"T=4.5","r":3,"c":2,"s":"G"},{"p":"T=4.5","r":3,"c":3,"s":"G"},{"p":"T=4.5","r":3,"c":4,"s":"B"},{"p":"T=4.5","r":3,"c":5,"s":"G"},{"p":"T=4.5","r":3,"c":6,"s":"G"},{"p":"T=4.5","r":3,"c":7,"s":"G"},{"p":"T=4.5","r":3,"c":8,"s":"B"},{"p":"T=4.5","r":3,"c":9,"s":"G"},
{"p":"T=4.5","r":4,"c":0,"s":"G"},{"p":"T=4.5","r":4,"c":1,"s":"G"},{"p":"T=4.5","r":4,"c":2,"s":"G"},{"p":"T=4.5","r":4,"c":3,"s":"G"},{"p":"T=4.5","r":4,"c":4,"s":"G"},{"p":"T=4.5","r":4,"c":5,"s":"G"},{"p":"T=4.5","r":4,"c":6,"s":"G"},{"p":"T=4.5","r":4,"c":7,"s":"G"},{"p":"T=4.5","r":4,"c":8,"s":"G"},{"p":"T=4.5","r":4,"c":9,"s":"G"},
{"p":"T=4.5","r":5,"c":0,"s":"B"},{"p":"T=4.5","r":5,"c":1,"s":"G"},{"p":"T=4.5","r":5,"c":2,"s":"B"},{"p":"T=4.5","r":5,"c":3,"s":"G"},{"p":"T=4.5","r":5,"c":4,"s":"B"},{"p":"T=4.5","r":5,"c":5,"s":"B"},{"p":"T=4.5","r":5,"c":6,"s":"G"},{"p":"T=4.5","r":5,"c":7,"s":"B"},{"p":"T=4.5","r":5,"c":8,"s":"B"},{"p":"T=4.5","r":5,"c":9,"s":"G"},
{"p":"T=4.5","r":6,"c":0,"s":"B"},{"p":"T=4.5","r":6,"c":1,"s":"G"},{"p":"T=4.5","r":6,"c":2,"s":"G"},{"p":"T=4.5","r":6,"c":3,"s":"G"},{"p":"T=4.5","r":6,"c":4,"s":"G"},{"p":"T=4.5","r":6,"c":5,"s":"B"},{"p":"T=4.5","r":6,"c":6,"s":"G"},{"p":"T=4.5","r":6,"c":7,"s":"G"},{"p":"T=4.5","r":6,"c":8,"s":"G"},{"p":"T=4.5","r":6,"c":9,"s":"G"},
{"p":"T=4.5","r":7,"c":0,"s":"B"},{"p":"T=4.5","r":7,"c":1,"s":"G"},{"p":"T=4.5","r":7,"c":2,"s":"G"},{"p":"T=4.5","r":7,"c":3,"s":"B"},{"p":"T=4.5","r":7,"c":4,"s":"B"},{"p":"T=4.5","r":7,"c":5,"s":"G"},{"p":"T=4.5","r":7,"c":6,"s":"G"},{"p":"T=4.5","r":7,"c":7,"s":"G"},{"p":"T=4.5","r":7,"c":8,"s":"B"},{"p":"T=4.5","r":7,"c":9,"s":"B"},
{"p":"T=4.5","r":8,"c":0,"s":"G"},{"p":"T=4.5","r":8,"c":1,"s":"G"},{"p":"T=4.5","r":8,"c":2,"s":"B"},{"p":"T=4.5","r":8,"c":3,"s":"B"},{"p":"T=4.5","r":8,"c":4,"s":"G"},{"p":"T=4.5","r":8,"c":5,"s":"B"},{"p":"T=4.5","r":8,"c":6,"s":"B"},{"p":"T=4.5","r":8,"c":7,"s":"G"},{"p":"T=4.5","r":8,"c":8,"s":"G"},{"p":"T=4.5","r":8,"c":9,"s":"B"},
{"p":"T=4.5","r":9,"c":0,"s":"G"},{"p":"T=4.5","r":9,"c":1,"s":"G"},{"p":"T=4.5","r":9,"c":2,"s":"G"},{"p":"T=4.5","r":9,"c":3,"s":"G"},{"p":"T=4.5","r":9,"c":4,"s":"G"},{"p":"T=4.5","r":9,"c":5,"s":"B"},{"p":"T=4.5","r":9,"c":6,"s":"G"},{"p":"T=4.5","r":9,"c":7,"s":"G"},{"p":"T=4.5","r":9,"c":8,"s":"G"},{"p":"T=4.5","r":9,"c":9,"s":"G"},
{"p":"T=5.0","r":0,"c":0,"s":"G"},{"p":"T=5.0","r":0,"c":1,"s":"G"},{"p":"T=5.0","r":0,"c":2,"s":"G"},{"p":"T=5.0","r":0,"c":3,"s":"B"},{"p":"T=5.0","r":0,"c":4,"s":"B"},{"p":"T=5.0","r":0,"c":5,"s":"G"},{"p":"T=5.0","r":0,"c":6,"s":"G"},{"p":"T=5.0","r":0,"c":7,"s":"B"},{"p":"T=5.0","r":0,"c":8,"s":"G"},{"p":"T=5.0","r":0,"c":9,"s":"B"},
{"p":"T=5.0","r":1,"c":0,"s":"B"},{"p":"T=5.0","r":1,"c":1,"s":"B"},{"p":"T=5.0","r":1,"c":2,"s":"G"},{"p":"T=5.0","r":1,"c":3,"s":"G"},{"p":"T=5.0","r":1,"c":4,"s":"G"},{"p":"T=5.0","r":1,"c":5,"s":"G"},{"p":"T=5.0","r":1,"c":6,"s":"B"},{"p":"T=5.0","r":1,"c":7,"s":"B"},{"p":"T=5.0","r":1,"c":8,"s":"B"},{"p":"T=5.0","r":1,"c":9,"s":"B"},
{"p":"T=5.0","r":2,"c":0,"s":"R"},{"p":"T=5.0","r":2,"c":1,"s":"G"},{"p":"T=5.0","r":2,"c":2,"s":"G"},{"p":"T=5.0","r":2,"c":3,"s":"B"},{"p":"T=5.0","r":2,"c":4,"s":"G"},{"p":"T=5.0","r":2,"c":5,"s":"G"},{"p":"T=5.0","r":2,"c":6,"s":"G"},{"p":"T=5.0","r":2,"c":7,"s":"B"},{"p":"T=5.0","r":2,"c":8,"s":"B"},{"p":"T=5.0","r":2,"c":9,"s":"B"},
{"p":"T=5.0","r":3,"c":0,"s":"B"},{"p":"T=5.0","r":3,"c":1,"s":"B"},{"p":"T=5.0","r":3,"c":2,"s":"G"},{"p":"T=5.0","r":3,"c":3,"s":"G"},{"p":"T=5.0","r":3,"c":4,"s":"B"},{"p":"T=5.0","r":3,"c":5,"s":"B"},{"p":"T=5.0","r":3,"c":6,"s":"G"},{"p":"T=5.0","r":3,"c":7,"s":"B"},{"p":"T=5.0","r":3,"c":8,"s":"B"},{"p":"T=5.0","r":3,"c":9,"s":"B"},
{"p":"T=5.0","r":4,"c":0,"s":"B"},{"p":"T=5.0","r":4,"c":1,"s":"B"},{"p":"T=5.0","r":4,"c":2,"s":"G"},{"p":"T=5.0","r":4,"c":3,"s":"G"},{"p":"T=5.0","r":4,"c":4,"s":"G"},{"p":"T=5.0","r":4,"c":5,"s":"G"},{"p":"T=5.0","r":4,"c":6,"s":"G"},{"p":"T=5.0","r":4,"c":7,"s":"G"},{"p":"T=5.0","r":4,"c":8,"s":"B"},{"p":"T=5.0","r":4,"c":9,"s":"B"},
{"p":"T=5.0","r":5,"c":0,"s":"G"},{"p":"T=5.0","r":5,"c":1,"s":"G"},{"p":"T=5.0","r":5,"c":2,"s":"G"},{"p":"T=5.0","r":5,"c":3,"s":"G"},{"p":"T=5.0","r":5,"c":4,"s":"G"},{"p":"T=5.0","r":5,"c":5,"s":"B"},{"p":"T=5.0","r":5,"c":6,"s":"B"},{"p":"T=5.0","r":5,"c":7,"s":"G"},{"p":"T=5.0","r":5,"c":8,"s":"B"},{"p":"T=5.0","r":5,"c":9,"s":"G"},
{"p":"T=5.0","r":6,"c":0,"s":"B"},{"p":"T=5.0","r":6,"c":1,"s":"G"},{"p":"T=5.0","r":6,"c":2,"s":"G"},{"p":"T=5.0","r":6,"c":3,"s":"B"},{"p":"T=5.0","r":6,"c":4,"s":"B"},{"p":"T=5.0","r":6,"c":5,"s":"B"},{"p":"T=5.0","r":6,"c":6,"s":"G"},{"p":"T=5.0","r":6,"c":7,"s":"B"},{"p":"T=5.0","r":6,"c":8,"s":"G"},{"p":"T=5.0","r":6,"c":9,"s":"G"},
{"p":"T=5.0","r":7,"c":0,"s":"G"},{"p":"T=5.0","r":7,"c":1,"s":"G"},{"p":"T=5.0","r":7,"c":2,"s":"G"},{"p":"T=5.0","r":7,"c":3,"s":"G"},{"p":"T=5.0","r":7,"c":4,"s":"G"},{"p":"T=5.0","r":7,"c":5,"s":"B"},{"p":"T=5.0","r":7,"c":6,"s":"G"},{"p":"T=5.0","r":7,"c":7,"s":"G"},{"p":"T=5.0","r":7,"c":8,"s":"G"},{"p":"T=5.0","r":7,"c":9,"s":"G"},
{"p":"T=5.0","r":8,"c":0,"s":"G"},{"p":"T=5.0","r":8,"c":1,"s":"G"},{"p":"T=5.0","r":8,"c":2,"s":"G"},{"p":"T=5.0","r":8,"c":3,"s":"B"},{"p":"T=5.0","r":8,"c":4,"s":"B"},{"p":"T=5.0","r":8,"c":5,"s":"G"},{"p":"T=5.0","r":8,"c":6,"s":"G"},{"p":"T=5.0","r":8,"c":7,"s":"G"},{"p":"T=5.0","r":8,"c":8,"s":"G"},{"p":"T=5.0","r":8,"c":9,"s":"G"},
{"p":"T=5.0","r":9,"c":0,"s":"G"},{"p":"T=5.0","r":9,"c":1,"s":"G"},{"p":"T=5.0","r":9,"c":2,"s":"G"},{"p":"T=5.0","r":9,"c":3,"s":"B"},{"p":"T=5.0","r":9,"c":4,"s":"G"},{"p":"T=5.0","r":9,"c":5,"s":"B"},{"p":"T=5.0","r":9,"c":6,"s":"G"},{"p":"T=5.0","r":9,"c":7,"s":"G"},{"p":"T=5.0","r":9,"c":8,"s":"G"},{"p":"T=5.0","r":9,"c":9,"s":"B"}
  ]},
  "facet": {"field": "p", "type": "nominal", "header": {"title": null, "labelFontSize": 24, "labelFont": "DejaVu Sans", "labelColor": "#000000", "labelPadding": 4}},
  "columns": 3,
  "spacing": {"column": 52, "row": 23},
  "spec": {
    "width": 279,
    "height": 271,
    "mark": {"type": "circle", "size": 210, "opacity": 1},
    "encoding": {
      "x": {"field": "c", "type": "ordinal", "scale": {"type": "point", "padding": 0.5}, "axis": null},
      "y": {"field": "r", "type": "ordinal", "scale": {"type": "point", "padding": 0.5}, "axis": null},
      "color": {"field": "s", "type": "nominal", "scale": {"domain": ["B", "G", "R"], "range": ["#f5deb3", "#808080", "#ff0000"]}, "legend": null}
    }
  }
}
